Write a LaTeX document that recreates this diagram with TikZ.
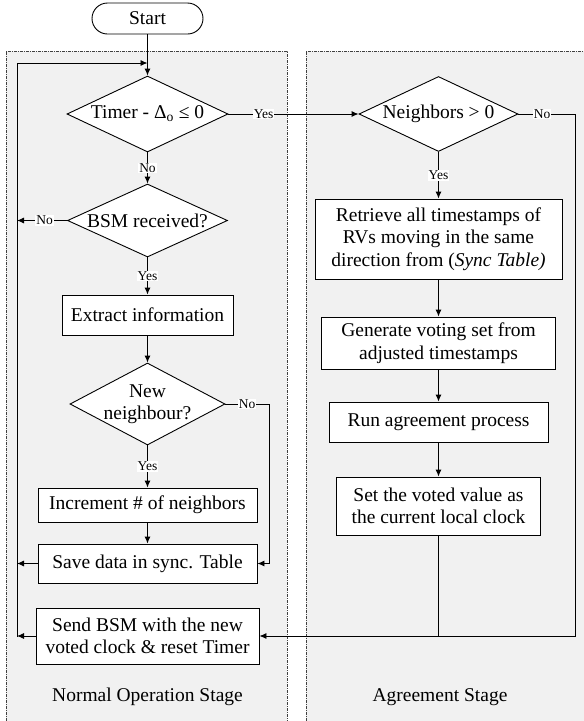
\documentclass[tikz,border=0pt]{standalone}
\usepackage{fontspec}
\setmainfont{Liberation Serif}
\usetikzlibrary{shapes.geometric,arrows.meta}
\definecolor{stagegray}{RGB}{241,241,241}
\begin{document}
\begin{tikzpicture}[x=1pt,y=-1pt,line width=0.9pt,
        font=\fontsize{19.5}{22.5}\selectfont,
        box/.style={draw,fill=white,inner sep=0pt,align=center},
        decision/.style={draw,fill=white,diamond,inner sep=0pt},
        lbl/.style={fill=white,inner sep=0.8pt,font=\fontsize{13.5}{15}\selectfont},
        arr/.style={-{Latex[length=7pt,width=6pt]}},
        stage/.style={line width=0.8pt,dash pattern=on 3pt off 1pt on 1pt off 1pt,draw=black!75}]
        \useasboundingbox (0,0) rectangle (584,721);
        \fill[stagegray] (6,51) rectangle (287,721);
        \fill[stagegray] (306,51) rectangle (584,721);
        \draw[stage] (6,721) -- (6,51) -- (287,51) -- (287,721);
        \draw[stage] (306,721) -- (306,51) -- (584,51);
        \node[box,rounded corners=15.5pt,minimum width=111pt,minimum height=31pt] (start) at (147.5,18.5) {Start};
        \node[decision,minimum width=161pt,minimum height=76pt,label=center:{Timer - Δ\textsubscript{o} ≤ 0}] (timer) at (147.5,114) {};
        \node[decision,minimum width=160pt,minimum height=73pt,label=center:{BSM received?}] (bsm) at (147.5,220.5) {};
        \node[box,minimum width=171pt,minimum height=40pt] (extract) at (147.5,315) {Extract information};
        \node[decision,minimum width=155pt,minimum height=82pt,label={[align=center]center:New\\neighbour?}] (newn) at (147.5,404) {};
        \node[box,minimum width=219pt,minimum height=34pt] (incr) at (147.5,505) {Increment \# of neighbors};
        \node[box,minimum width=219pt,minimum height=39pt] (save) at (147.5,563.5) {Save data in sync. Table};
        \node[box,minimum width=223pt,minimum height=56pt] (send) at (147.5,636) {Send BSM with the new\\voted clock \& reset Timer};
        \node[decision,minimum width=159pt,minimum height=75pt,label=center:{Neighbors > 0}] (nbr) at (438.5,114) {};
        \node[box,minimum width=247pt,minimum height=80pt] (retrieve) at (438.5,239) {Retrieve all timestamps of\\RVs moving in the same\\direction from (\textit{Sync Table)}};
        \node[box,minimum width=234pt,minimum height=52pt] (generate) at (438.5,343) {Generate voting set from\\adjusted timestamps};
        \node[box,minimum width=219pt,minimum height=40pt] (run) at (438.5,422) {Run agreement process};
        \node[box,minimum width=204pt,minimum height=58pt] (setv) at (438.5,506) {Set the voted value as\\the current local clock};
        \node (normal) at (147.5,697) {Normal Operation Stage};
        \node (agree) at (440,697) {Agreement Stage};
        \coordinate (lptop) at (17,63);
        \coordinate (lpbot) at (17,637);
        \coordinate (tjoin) at (147.5,63);
        \coordinate (skip) at (269,0);
        \coordinate (rgt) at (575,0);
        \draw[arr] (start) -- (timer);
        \draw[arr] (lpbot) -- (lptop) -- (tjoin);
        \draw[arr] (timer) -- node[lbl,pos=0.27] {Yes} (nbr);
        \draw[arr] (timer) -- node[lbl] {No} (bsm);
        \draw[arr] (bsm.west) -- node[lbl,pos=0.45] {No} (bsm.west -| lptop);
        \draw[arr] (bsm) -- node[lbl] {Yes} (extract);
        \draw[arr] (extract) -- (newn);
        \draw[arr] (newn.east) -- node[lbl] {No} (newn.east -| skip) |- (save.east);
        \draw[arr] (newn) -- node[lbl] {Yes} (incr);
        \draw[arr] (incr) -- (save);
        \draw[arr] (save.west) -- (save.west -| lptop);
        \draw[arr] (send.west) -- (send.west -| lptop);
        \draw[arr] (nbr.east) -- node[lbl,pos=0.42] {No} (nbr.east -| rgt) |- (send.east);
        \draw[arr] (nbr) -- node[lbl] {Yes} (retrieve);
        \draw[arr] (retrieve) -- (generate);
        \draw[arr] (generate) -- (run);
        \draw[arr] (run) -- (setv);
        \draw (setv) -- (setv |- send.east);
    \end{tikzpicture}
\end{document}
